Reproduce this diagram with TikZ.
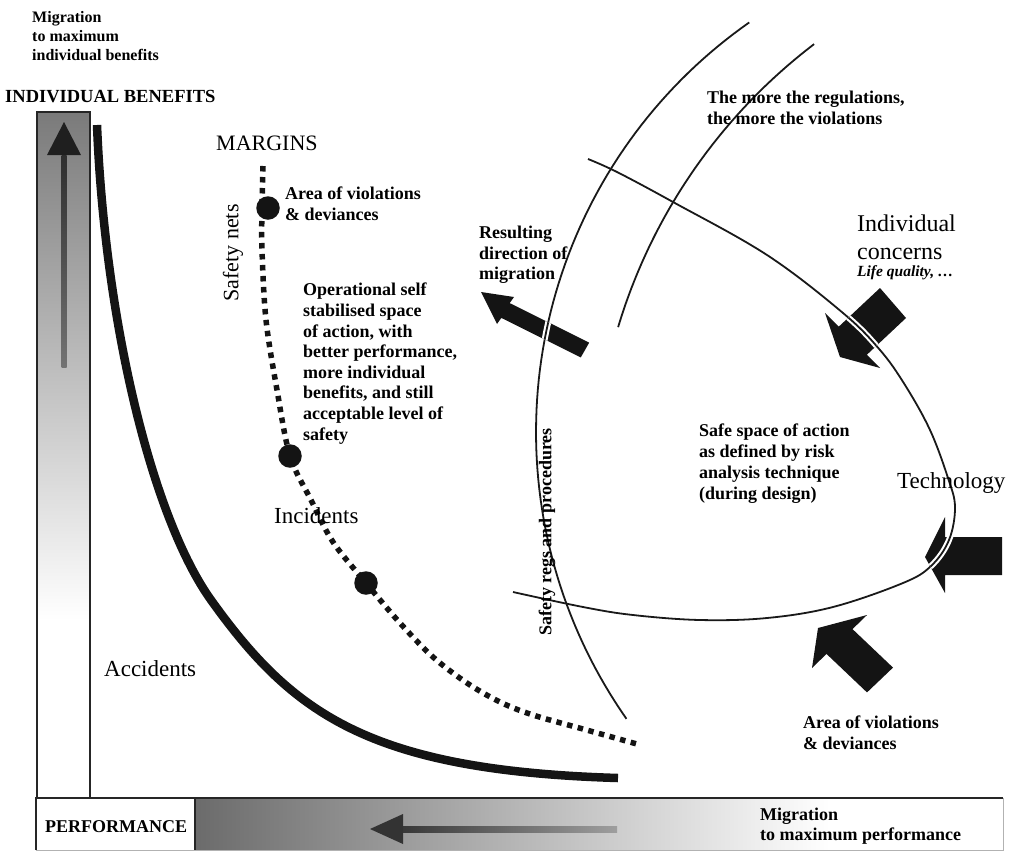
\documentclass[tikz,border=0pt]{standalone}
\usepackage{fontspec}
\setmainfont{Liberation Serif}
\newcommand{\OuterArc}{plot[domain=145:235,samples=80] ({1036+500*cos(\x)},{432+500*sin(\x)})}
\newcommand{\InnerArc}{plot[domain=196.7:232.7,samples=60] ({1151.6+557*cos(\x)},{487.2+557*sin(\x)})}
\newcommand{\LoopCurve}{plot[smooth,tension=0.6] coordinates {(588,159) (617,172) (673,202) (767,255) (843,313) (880,350) (905,385) (930,430) (948,478) (955,507) (949,540) (931,566) (903,583) (833,607) (767,618) (700,620) (633,615) (583,607) (513,592)}}
\begin{document}
\begin{tikzpicture}[x=1pt,y=-1pt,
  thinline/.style={line width=1.8pt, black!90},
  halo/.style={line width=6pt, white},
  barline/.style={line width=1.5pt, black!85},
  blockarrow/.style={fill=black!92},
  lbl/.style={inner sep=0pt, anchor=west, align=left},
  bftext/.style={font=\fontsize{18}{20.6}\selectfont\bfseries},
  bigtext/.style={font=\fontsize{23}{27}\selectfont},
  dotnode/.style={circle, fill=black!92, inner sep=0pt, minimum size=23.5pt}]
\useasboundingbox (0,0) rectangle (1009,852);

% ---- left vertical bar (individual benefits)
\shade[top color=black!52, middle color=black!17, bottom color=white] (37,112) rectangle (90,620);
\draw[barline] (37,798) -- (37,112) -- (90,112) -- (90,798);
\shade[top color=black!82, bottom color=black!55] (61.5,155) rectangle (66.5,367);
\fill[black!88] (64,122) -- (81,155) -- (47,155) -- cycle;

% ---- bottom bar (performance)
\shade[left color=black!58, middle color=black!25, right color=white] (195,798) rectangle (830,850);
\draw[barline] (36,850) -- (36,798) -- (1003,798);
\draw[barline] (195,798) -- (195,850);
\draw[line width=0.8pt, black!30] (1003,798) -- (1003,850) -- (36,850);
\fill[black!80] (370,829) -- (403,814) -- (403,844) -- cycle;
\shade[left color=black!78, right color=black!38] (403,826.5) rectangle (617,832);

% ---- boundary of acceptable performance (thick curve)
\draw[line width=8.5pt, black!92, line cap=butt] (97,125) .. controls (105,325) and (153,519) .. (211,600) .. controls (292,713) and (368,770.5) .. (618,778);

% ---- margins (dotted curve)
\draw[line width=5.5pt, black!92, dash pattern=on 5.5pt off 5.5pt] plot[smooth, tension=0.55] coordinates {(263,166) (262,207) (262,250) (266,320) (277,390) (290,456) (311,500) (333,542) (366,583) (400,623) (433,657) (467,683) (500,702) (533,715) (583,729) (637,744)};
\node[dotnode] (dotA) at (268,208) {};
\node[dotnode] (dotB) at (290,456) {};
\node[dotnode] (dotC) at (366,583) {};

% ---- regulation arcs and safe space loop
\draw[thinline] \OuterArc;
\draw[thinline] \InnerArc;
\draw[thinline] \LoopCurve;

% ---- block arrows
\newcommand{\MigArrow}{(481,292) -- (514,297) -- (509.7,303.1) -- (589.2,342.6) -- (580.8,357.4) -- (501.3,317.9) -- (497,324) -- cycle}
\newcommand{\ConArrow}{(880,288) -- (906,318) -- (866.8,354.8) -- (880,368) -- (840,357) -- (825,313) -- (838.7,326.7) -- cycle}
\newcommand{\TecArrow}{(925,557) -- (945,517) -- (945,537) -- (1002,537) -- (1002,575) -- (945,575) -- (945,593) -- cycle}
\newcommand{\VioArrow}{(818,628) -- (867,615) -- (852.5,629.1) -- (893,667.6) -- (867,692.4) -- (826.5,653.9) -- (812,668) -- cycle}
\fill[blockarrow] \MigArrow;
\fill[blockarrow] \ConArrow;
\fill[blockarrow] \TecArrow;
\fill[blockarrow] \VioArrow;
\begin{scope}
  \clip \MigArrow;
  \draw[halo] \OuterArc;
  \draw[thinline] \OuterArc;
\end{scope}
\begin{scope}
  \clip \ConArrow;
  \draw[halo] \LoopCurve;
  \draw[thinline] \LoopCurve;
\end{scope}
\begin{scope}
  \clip \TecArrow;
  \draw[halo] \LoopCurve;
  \draw[thinline] \LoopCurve;
\end{scope}

% ---- texts
\node[lbl, font=\fontsize{16}{19}\selectfont\bfseries] (migben) at (32,36) {Migration\\to maximum\\individual benefits};
\node[lbl, font=\fontsize{18.5}{22}\selectfont\bfseries] (indben) at (5,97) {INDIVIDUAL BENEFITS};
\node[lbl, font=\fontsize{22}{26}\selectfont] (margins) at (216,143) {MARGINS};
\node[inner sep=0pt, rotate=90, font=\fontsize{22}{26}\selectfont] (nets) at (233,253) {Safety nets};
\node[lbl, bftext] (violA) at (285,204) {Area of violations\\\& deviances};
\node[lbl, bftext] (oper) at (303,363.5) {Operational self\\stabilised space\\of action, with\\better performance,\\more individual\\benefits, and still\\acceptable level of\\safety};
\node[lbl, bftext] (result) at (479,255) {Resulting\\direction of\\migration};
\node[lbl, bftext] (moreregs) at (707,108) {The more the regulations,\\the more the violations};
\node[lbl, font=\fontsize{24}{28}\selectfont] (concerns) at (857,237) {Individual\\concerns};
\node[lbl, font=\fontsize{15.5}{18}\selectfont\bfseries\itshape] (life) at (857,273) {Life quality, …};
\node[lbl, bigtext] (tech) at (897,483) {Technology};
\node[lbl, font=\fontsize{18}{21}\selectfont\bfseries] (safe) at (699,463.5) {Safe space of action\\as defined by risk\\analysis technique\\(during design)};
\node[inner sep=0pt, rotate=90, bftext] (procs) at (547,532) {Safety regs and procedures};
\node[lbl, bftext] (violB) at (803,733) {Area of violations\\\& deviances};
\node[lbl, bigtext] (incid) at (274,516) {Incidents};
\node[lbl, bigtext] (accid) at (104,669) {Accidents};
\node[lbl, bftext] (perf) at (45,827) {PERFORMANCE};
\node[lbl, bftext] (migperf) at (760,826) {Migration\\to maximum performance};
\end{tikzpicture}
\end{document}
